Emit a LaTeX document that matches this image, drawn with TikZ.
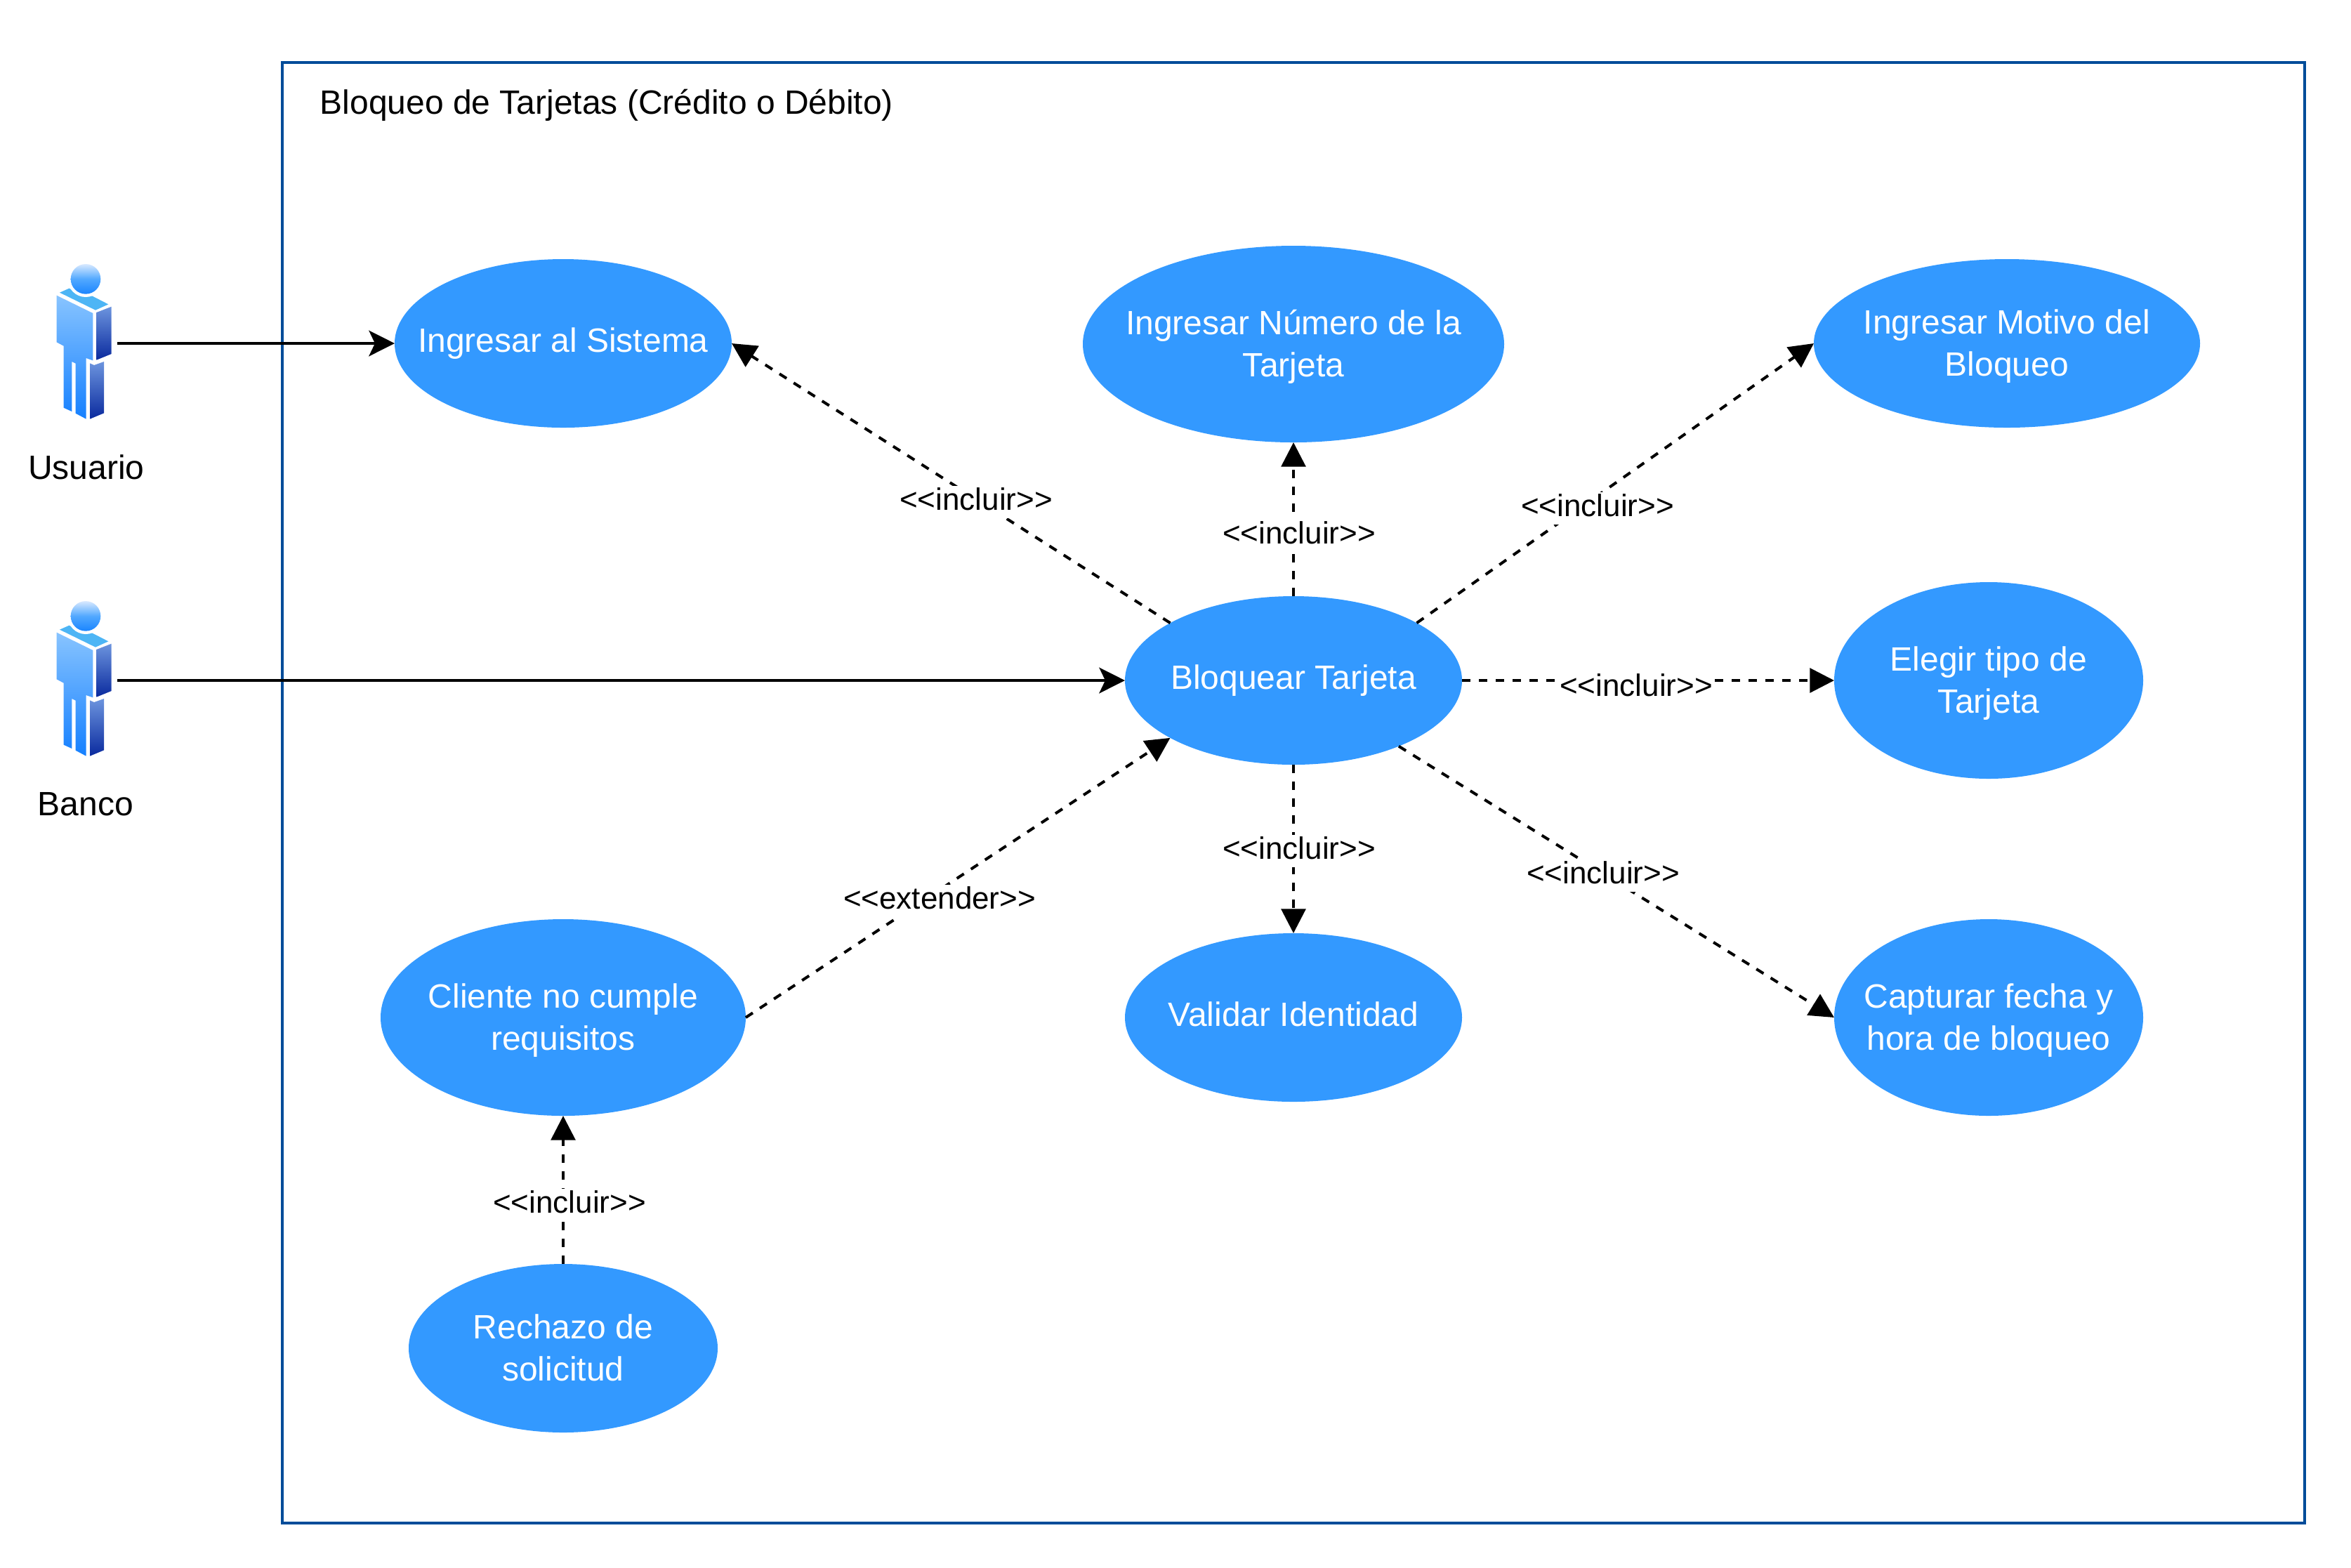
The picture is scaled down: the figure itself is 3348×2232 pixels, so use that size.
\documentclass[tikz,border=0pt]{standalone}
\usepackage{fontspec}
\setmainfont{Liberation Sans}
\usetikzlibrary{arrows.meta,shapes.geometric}
\definecolor{ucblue}{HTML}{3399FF}
\definecolor{framecol}{HTML}{004C99}
\definecolor{shoulder}{HTML}{4DB5F5}
\definecolor{headtop}{HTML}{D8E9FF}
\definecolor{headbot}{HTML}{1A85FF}
\definecolor{bodytop}{HTML}{88C4FF}
\definecolor{bodybot}{HTML}{1580FF}
\definecolor{sidetop}{HTML}{6C94DE}
\definecolor{sidebot}{HTML}{0A2A9E}
\newcommand\us{\rule[-3.2pt]{0pt}{14pt}}
\newcommand\ut{\rule[-3.2pt]{0pt}{16.4pt}}
\tikzset{
  ucase/.style 2 args={ellipse,fill=ucblue,draw=none,text=white,align=center,inner sep=-120pt,outer sep=0pt,
    minimum width=#1*0.6pt,minimum height=#2*0.6pt,font=\fontsize{14.4}{18}\selectfont},
  incl/.style={-{Triangle[length=10.4pt,width=10.4pt]},line width=1.2pt,dash pattern=on 3.6pt off 3.6pt},
  assoc/.style={-{Stealth[length=11pt,width=11pt,inset=2.6pt]},line width=1.2pt},
  lbl/.style={fill=white,inner xsep=0pt,inner ysep=0pt,text height=10.5pt,text depth=3.5pt,font=\fontsize{13.2}{16}\selectfont},
  actorname/.style={inner sep=0pt,font=\fontsize{14.4}{17}\selectfont},
  actorfig/.pic={
    \fill[shoulder] (255,230) -- (295,212) -- (366,240) -- (395,245) -- (463,280) -- (408,305) -- cycle;
    \fill[white] (366,172) circle [radius=77];
    \shade[top color=headtop,bottom color=headbot,middle color=ucblue!85!white] (366,172) circle [radius=64];
    \shade[top color=bodytop,bottom color=bodybot]
      (242,242) -- (397,318) -- (397,520) -- (368,510) -- (368,770) -- (323,746) -- (323,533) -- (307,525) -- (307,738) -- (272,722) -- (272,458) -- (242,442) -- cycle;
    \shade[top color=sidetop,bottom color=sidebot]
      (412,315) -- (476,290) -- (476,492) -- (412,518) -- cycle;
    \shade[top color=sidetop,bottom color=sidebot]
      (384,532) -- (402,540) -- (444,525) -- (444,745) -- (384,770) -- cycle;
  }
}
\begin{document}
\begin{tikzpicture}[x=0.3pt,y=-0.3pt]
\useasboundingbox (0,0) rectangle (3348,2232);
% system frame
\node[draw=framecol,line width=1.2pt,outer sep=0pt,minimum width=2880*0.3pt,minimum height=2080*0.3pt,anchor=north west,inner sep=0pt] (frame) at (402,89) {};
\node[anchor=west,inner sep=0pt,font=\fontsize{14.4}{18}\selectfont] (title) at (455,150) {Bloqueo de Tarjetas (Crédito o Débito)};
% actors
\begin{scope}[shift={(0,340)},x=0.1pt,y=-0.1pt]
  \pic {actorfig};
\end{scope}
\begin{scope}[shift={(0,820)},x=0.1pt,y=-0.1pt]
  \pic {actorfig};
\end{scope}
\node[actorname] (usuario) at (123,665) {Usuario};
\node[actorname] (banco) at (122,1145) {Banco};
\coordinate (ua) at (167,489);
\coordinate (ba) at (167,969);
% use cases
\node[ucase={240}{120}] (sistema) at (802,489) {\us Ingresar al Sistema};
\node[ucase={300}{140}] (numero) at (1842,490) {\ut Ingresar Número de la\\\us Tarjeta};
\node[ucase={275}{120}] (motivo) at (2858,489) {\ut Ingresar Motivo del\\\us Bloqueo};
\node[ucase={240}{120}] (bloquear) at (1842,969) {\us Bloquear Tarjeta};
\node[ucase={220}{140}] (elegir) at (2832,969) {\ut Elegir tipo de\\\us Tarjeta};
\node[ucase={220}{140}] (capturar) at (2832,1449) {\ut Capturar fecha y\\\us hora de bloqueo};
\node[ucase={240}{120}] (validar) at (1842,1449) {\us Validar Identidad};
\node[ucase={260}{140}] (cliente) at (802,1449) {\ut Cliente no cumple\\\us requisitos};
\node[ucase={220}{120}] (rechazo) at (802,1920) {\ut Rechazo de\\\us solicitud};
% connectors
\draw[assoc] (ua) -- (sistema.west);
\draw[assoc] (ba) -- (bloquear.west);
\draw[incl] (bloquear.155) -- (sistema.east);
\draw[incl] (bloquear.north) -- (numero.south);
\draw[incl] (bloquear.25) -- (motivo.west);
\draw[incl] (bloquear.east) -- (elegir.west);
\draw[incl] (bloquear.south) -- (validar.north);
\draw[incl] (bloquear.-32) -- (capturar.west);
\draw[incl] (cliente.east) -- (bloquear.205);
\draw[incl] (rechazo.north) -- (cliente.south);
% labels
\node[lbl] (l1) at (1390,715) {<{}<incluir>{}>};
\node[lbl] (l2) at (1850,763) {<{}<incluir>{}>};
\node[lbl] (l3) at (2275,724) {<{}<incluir>{}>};
\node[lbl] (l4) at (2330,980) {<{}<incluir>{}>};
\node[lbl] (l5) at (1850,1212) {<{}<incluir>{}>};
\node[lbl] (l6) at (2283,1247) {<{}<incluir>{}>};
\node[lbl] (l7) at (1338,1283) {<{}<extender>{}>};
\node[lbl] (l8) at (811,1716) {<{}<incluir>{}>};
\end{tikzpicture}
\end{document}
